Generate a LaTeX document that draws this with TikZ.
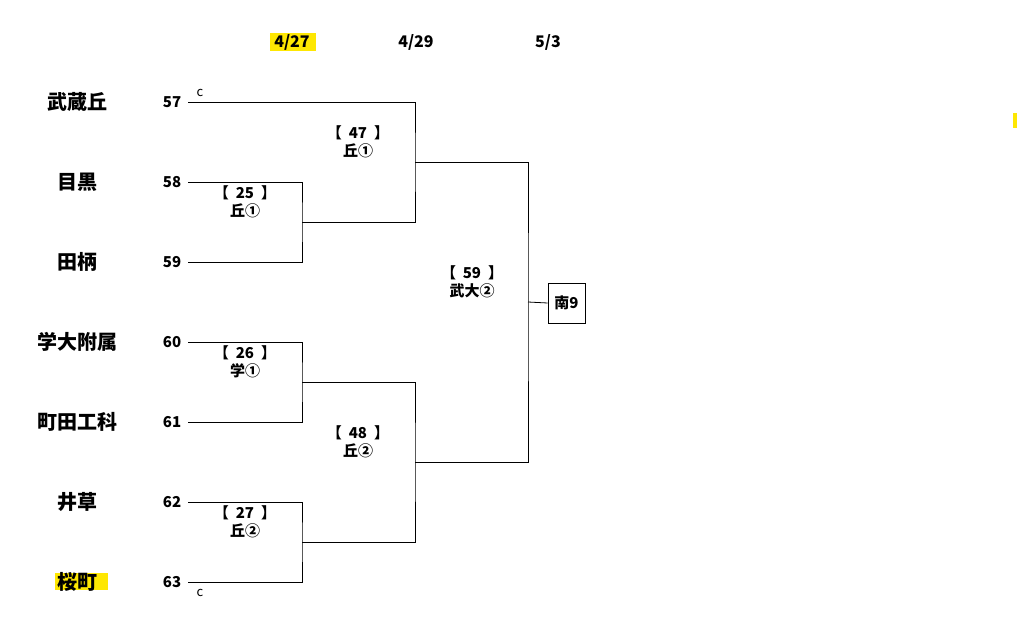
\documentclass[tikz,border=0pt]{standalone}
\usepackage{fontspec}
\setmainfont{Noto Sans CJK JP}
\usetikzlibrary{positioning}
\tikzstyle{team}=[font=\bfseries\fontsize{20}{22}\selectfont, inner sep=0pt]
\tikzstyle{seed}=[font=\bfseries\fontsize{15}{17}\selectfont, inner sep=0pt]
\tikzstyle{game}=[font=\bfseries\fontsize{15}{18}\selectfont, align=center, inner sep=0pt]
\tikzstyle{date}=[font=\bfseries\fontsize{16}{18}\selectfont, inner sep=1pt]
\tikzstyle{line}=[draw, black, line width=0.8pt]
\newcommand{\team}[3]{node (t#1) [team] at (77,#2) {#3}
  node (n#1) [seed] at (172,#2) {#1}
  coordinate (s#1) at (188,#2)}
\begin{document}
\begin{tikzpicture}[x=1pt,y=-1pt]
\useasboundingbox (0,0) rectangle (1020,619);

% Dates
\fill[yellow!90!orange] (270,33) rectangle (316,51);
\path node (d1) [date] at (292,42) {4/27};
\path node (d2) [date] at (416,42) {4/29};
\path node (d3) [date] at (548,42) {5/3};
\fill[yellow!90!orange] (1013,113) rectangle (1017,128);

% Teams
\fill[yellow!90!orange] (55,573) rectangle (108,590);
\path \team{57}{102}{武蔵丘};
\path \team{58}{182}{目黒};
\path \team{59}{262}{田柄};
\path \team{60}{342}{学大附属};
\path \team{61}{422}{町田工科};
\path \team{62}{502}{井草};
\path \team{63}{582}{桜町};
\path node (c1) [seed, font=\fontsize{13}{14}\selectfont] at (200,93) {c};
\path node (c2) [seed, font=\fontsize{13}{14}\selectfont] at (200,593) {c};

% Joints
\coordinate (r25) at (302,222);
\coordinate (r26) at (302,382);
\coordinate (r27) at (302,542);
\coordinate (r47) at (415,162);
\coordinate (r48) at (415,462);
\coordinate (r59) at (528,302);

% Draw bracket
\path [line] (s58) -| (r25) |- (s59);
\path [line] (s60) -| (r26) |- (s61);
\path [line] (s62) -| (r27) |- (s63);
\path [line] (s57) -| (r47) |- (r25);
\path [line] (r26) -| (r48) |- (r27);
\path [line] (r47) -| (r59) |- (r48);
\path node (w) [draw, line width=0.8pt, font=\bfseries\fontsize{15}{17}\selectfont,
  minimum width=37pt, minimum height=40pt, inner sep=0pt] at (566.5,303) {南9};
\path [line] (r59) -- (w.west);

% Game labels
\path node (g25) [game] at (245,202) {【\ \ 25\ \ 】\\丘①};
\path node (g26) [game] at (245,362) {【\ \ 26\ \ 】\\学①};
\path node (g27) [game] at (245,522) {【\ \ 27\ \ 】\\丘②};
\path node (g47) [game] at (358,142) {【\ \ 47\ \ 】\\丘①};
\path node (g48) [game] at (358,442) {【\ \ 48\ \ 】\\丘②};
\path node (g59) [game] at (472,282) {【\ \ 59\ \ 】\\武大②};
\end{tikzpicture}
\end{document}
